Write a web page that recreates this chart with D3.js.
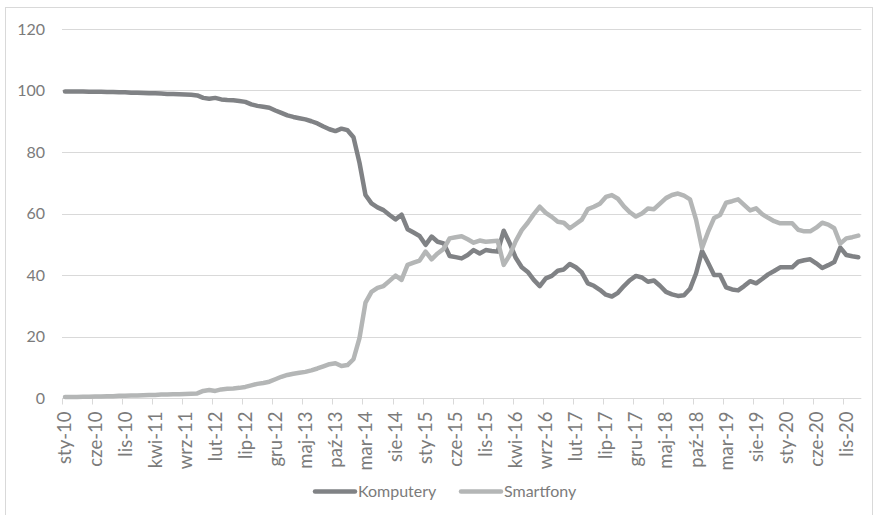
<!DOCTYPE html>
<html>
<head>
<meta charset="utf-8">
<script src="https://cdn.jsdelivr.net/npm/d3@7"></script>
<style>
  html, body { margin: 0; padding: 0; background: #ffffff; }
  svg { display: block; }
  text { font-family: Lato, "Open Sans", sans-serif; fill: #7b7b7b; }
</style>
</head>
<body>
<script>
// Monthly share (%) of web traffic, January 2010 – January 2021
const monthNames = ["sty", "lut", "mar", "kwi", "maj", "cze", "lip", "sie", "wrz", "paź", "lis", "gru"];
const startYear = 2010;
const monthCount = 133;

const tickLabels = ["sty-10", "cze-10", "lis-10", "kwi-11", "wrz-11", "lut-12", "lip-12", "gru-12",
  "maj-13", "paź-13", "mar-14", "sie-14", "sty-15", "cze-15", "lis-15", "kwi-16", "wrz-16",
  "lut-17", "lip-17", "gru-17", "maj-18", "paź-18", "mar-19", "sie-19", "sty-20", "cze-20", "lis-20"];

const yTicks = [0, 20, 40, 60, 80, 100, 120];

const komputery = [
  99.7, 99.7, 99.7, 99.7, 99.6, 99.6, 99.6, 99.5, 99.5, 99.4,
  99.4, 99.3, 99.3, 99.2, 99.1, 99.1, 99.0, 98.9, 98.9, 98.8,
  98.7, 98.6, 98.4, 97.6, 97.3, 97.6, 97.1, 96.9, 96.8, 96.6,
  96.3, 95.5, 95.0, 94.7, 94.4, 93.5, 92.7, 91.9, 91.4, 91.0,
  90.6, 90.0, 89.3, 88.3, 87.4, 86.8, 87.6, 87.1, 84.8, 76.5,
  66.0, 63.3, 62.0, 61.1, 59.5, 58.1, 59.6, 54.9, 53.8, 52.7,
  49.8, 52.5, 50.8, 50.3, 46.2, 45.8, 45.4, 46.5, 48.1, 47.0,
  48.1, 47.8, 47.6, 54.4, 50.3, 45.6, 42.5, 41.0, 38.4, 36.4,
  38.9, 39.7, 41.4, 41.8, 43.6, 42.5, 40.8, 37.3, 36.5, 35.2,
  33.6, 33.0, 34.2, 36.4, 38.3, 39.7, 39.2, 37.8, 38.2, 36.5,
  34.5, 33.7, 33.2, 33.4, 35.5, 40.5, 47.8, 44.0, 40.0, 40.0,
  36.0, 35.3, 35.0, 36.4, 38.0, 37.3, 38.7, 40.2, 41.3, 42.5,
  42.5, 42.5, 44.3, 44.8, 45.1, 43.8, 42.3, 43.2, 44.2, 48.9,
  46.5, 46.1, 45.8
];

const smartfony = [
  0.3, 0.3, 0.3, 0.4, 0.4, 0.5, 0.5, 0.6, 0.6, 0.7,
  0.7, 0.8, 0.8, 0.9, 1.0, 1.0, 1.1, 1.1, 1.2, 1.2,
  1.3, 1.4, 1.5, 2.3, 2.6, 2.3, 2.8, 3.0, 3.1, 3.3,
  3.6, 4.1, 4.6, 4.9, 5.3, 6.1, 6.9, 7.5, 7.9, 8.2,
  8.5, 9.0, 9.6, 10.3, 11.0, 11.3, 10.4, 10.7, 12.6, 19.5,
  31.0, 34.5, 35.8, 36.4, 38.1, 39.8, 38.4, 43.3, 44.0, 44.7,
  47.6, 45.1, 47.0, 48.5, 51.9, 52.3, 52.6, 51.6, 50.5, 51.2,
  50.8, 51.0, 51.1, 43.3, 46.5, 51.0, 54.6, 57.0, 59.8, 62.2,
  60.2, 58.9, 57.3, 57.0, 55.2, 56.6, 58.0, 61.4, 62.2, 63.2,
  65.4, 66.0, 64.8, 62.3, 60.4, 59.0, 60.0, 61.6, 61.4, 63.2,
  65.0, 66.0, 66.5, 65.8, 64.6, 58.0, 48.8, 54.0, 58.5, 59.5,
  63.5, 64.0, 64.6, 62.8, 61.0, 61.7, 59.8, 58.6, 57.5, 56.8,
  56.8, 56.8, 54.7, 54.2, 54.2, 55.4, 57.0, 56.4, 55.2, 50.2,
  51.9, 52.3, 52.8
];

const seriesNames = ["Komputery", "Smartfony"];
const seriesColors = ["#808285", "#b4b6b6"];

// Category labels for every month (e.g. "sty-10")
const categories = d3.range(monthCount).map(i =>
  monthNames[i % 12] + "-" + String((startYear + Math.floor(i / 12)) % 100).padStart(2, "0"));

const W = 878, H = 515;
const svg = d3.select("body").append("svg").attr("width", W).attr("height", H);

svg.append("rect").attr("width", W).attr("height", H).attr("fill", "#ffffff");

// Chart area frame
svg.append("rect")
  .attr("x", 5.5).attr("y", 7.5).attr("width", 867).attr("height", 530)
  .attr("fill", "none").attr("stroke", "#d9d9d9").attr("stroke-width", 1);

const plot = { left: 62, right: 861.3, top: 29, bottom: 398 };

const x = d3.scaleLinear().domain([0, categories.length]).range([plot.left, plot.right]);
const y = d3.scaleLinear().domain([0, 120]).range([plot.bottom, plot.top]);

// Horizontal gridlines
svg.append("g")
  .selectAll("line")
  .data(yTicks.filter(v => v > 0))
  .join("line")
  .attr("x1", plot.left).attr("x2", plot.right)
  .attr("y1", d => Math.round(y(d)) + 0.5).attr("y2", d => Math.round(y(d)) + 0.5)
  .attr("stroke", "#d9d9d9").attr("stroke-width", 1);

// Y axis labels
const yAxis = d3.axisLeft(y).tickValues(yTicks).tickSize(0).tickPadding(0);
const gy = svg.append("g").attr("transform", `translate(45,0)`).call(yAxis);
gy.select(".domain").remove();
gy.selectAll("text")
  .attr("x", 0)
  .attr("font-size", 16)
  .attr("fill", "#7b7b7b")
  .style("font-family", "Lato, 'Open Sans', sans-serif");

// Category (x) axis: ticks every 5 months at slot boundaries, labels at slot centres
const tickIdx = tickLabels.map(l => categories.indexOf(l));
const gx = svg.append("g").attr("transform", `translate(0,${Math.round(plot.bottom) + 0.5})`);
gx.append("line")
  .attr("x1", plot.left).attr("x2", plot.right)
  .attr("stroke", "#d9d9d9").attr("stroke-width", 1);
gx.selectAll("line.tick")
  .data(tickIdx)
  .join("line")
  .attr("class", "tick")
  .attr("x1", d => Math.round(x(d)) + 0.5).attr("x2", d => Math.round(x(d)) + 0.5)
  .attr("y1", 0).attr("y2", 6)
  .attr("stroke", "#d9d9d9").attr("stroke-width", 1);
gx.selectAll("text")
  .data(tickIdx)
  .join("text")
  .attr("transform", d => `translate(${x(d + 0.5)},13) rotate(-90)`)
  .attr("text-anchor", "end")
  .attr("dy", "0.35em")
  .attr("font-size", 18.5)
  .text(d => categories[d]);

// Series lines
const line = d3.line()
  .x((d, i) => x(i + 0.5))
  .y(d => y(d));

[komputery, smartfony].forEach((vals, k) => {
  svg.append("path")
    .datum(vals)
    .attr("d", line)
    .attr("fill", "none")
    .attr("stroke", seriesColors[k])
    .attr("stroke-width", 4.5)
    .attr("stroke-linejoin", "round")
    .attr("stroke-linecap", "round");
});

// Legend
const legend = [
  { name: seriesNames[0], color: seriesColors[0], x: 315 },
  { name: seriesNames[1], color: seriesColors[1], x: 461 }
];
const lg = svg.append("g");
legend.forEach(d => {
  lg.append("line")
    .attr("x1", d.x).attr("x2", d.x + 40)
    .attr("y1", 491.5).attr("y2", 491.5)
    .attr("stroke", d.color).attr("stroke-width", 4.5)
    .attr("stroke-linecap", "round");
  lg.append("text")
    .attr("x", d.x + 43).attr("y", 491.5)
    .attr("dy", "0.35em")
    .attr("font-size", 16)
    .text(d.name);
});
</script>
</body>
</html>
